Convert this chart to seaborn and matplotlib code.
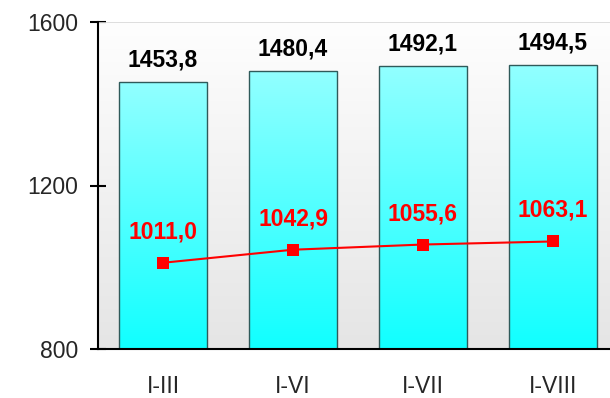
import numpy as np
import matplotlib
matplotlib.use("Agg")
import matplotlib.pyplot as plt
from matplotlib.colors import LinearSegmentedColormap
import seaborn as sns

# data
periods = ["I-III", "I-VI", "I-VII", "I-VIII"]
bar_vals = [1453.8, 1480.4, 1492.1, 1494.5]
line_vals = [1011.0, 1042.9, 1055.6, 1063.1]
bar_labels = ["1453,8", "1480,4", "1492,1", "1494,5"]
line_labels = ["1011,0", "1042,9", "1055,6", "1063,1"]

sns.set_style("white")
plt.rcParams["font.family"] = ["Liberation Sans", "DejaVu Sans"]

fig = plt.figure(figsize=(6.1, 3.98), dpi=100)
ax = fig.add_axes([98 / 610, 49 / 398, 520 / 610, 327 / 398])

sns.barplot(x=periods, y=bar_vals, ax=ax, width=0.68, color="#40ffff",
            edgecolor="#2f5a5a", linewidth=1.0, zorder=2)
ax.set_ylim(800, 1600)
ax.set_xlim(-0.5, 3.5)

# background gradient
bg = LinearSegmentedColormap.from_list("bg", ["#e5e5e5", "#fefefe"])
ax.imshow(np.linspace(0, 1, 256).reshape(-1, 1), cmap=bg, origin="lower",
          extent=[0, 1, 0, 1], transform=ax.transAxes, aspect="auto", zorder=0)

# bar gradients
bar_cm = LinearSegmentedColormap.from_list("bar", ["#10ffff", "#92ffff"])
for p in ax.patches:
    x0, w, h = p.get_x(), p.get_width(), p.get_height()
    im = ax.imshow(np.linspace(0, 1, 256).reshape(-1, 1), cmap=bar_cm, origin="lower",
                   extent=[x0, x0 + w, 800, h], aspect="auto", zorder=2.5)
    im.set_clip_path(p)
    p.set_facecolor("none")
    p.set_zorder(3)

ax.axhline(1600, color="#d8d8d8", lw=1.2, zorder=1)

sns.lineplot(x=periods, y=line_vals, ax=ax, color="red", lw=1.5, marker="s",
             markersize=9, markeredgewidth=0, zorder=4)
ax.set_xlim(-0.5, 3.5)
ax.set_ylim(800, 1600)

for i, (v, t) in enumerate(zip(bar_vals, bar_labels)):
    ax.annotate(t, (i, v), xytext=(0, 22), textcoords="offset pixels", ha="center",
                va="center", fontsize=16.5, fontweight="bold", color="black", zorder=5)
for i, (v, t) in enumerate(zip(line_vals, line_labels)):
    ax.annotate(t, (i, v), xytext=(0, 31), textcoords="offset pixels", ha="center",
                va="center", fontsize=16.5, fontweight="bold", color="red", zorder=5)

ax.set_yticks([800, 1200, 1600])
ax.set_xticks(range(len(periods)))
ax.set_xticklabels(periods)
ax.set_xticks([-0.5, 0.5, 1.5, 2.5, 3.5], minor=True)
ax.tick_params(axis="x", which="major", length=0, pad=19, labelsize=16.5)
ax.tick_params(axis="x", which="minor", direction="inout", length=12, width=1.5,
               color="black")
ax.tick_params(axis="y", direction="inout", length=12, width=1.5, color="black",
               pad=8, labelsize=16.5, left=True)
ax.set_xlabel("")
ax.set_ylabel("")

for s in ["top", "right"]:
    ax.spines[s].set_visible(False)
for s in ["left", "bottom"]:
    ax.spines[s].set_color("black")
    ax.spines[s].set_linewidth(1.5)
    ax.spines[s].set_zorder(6)

fig.savefig("out.png", dpi=100)
